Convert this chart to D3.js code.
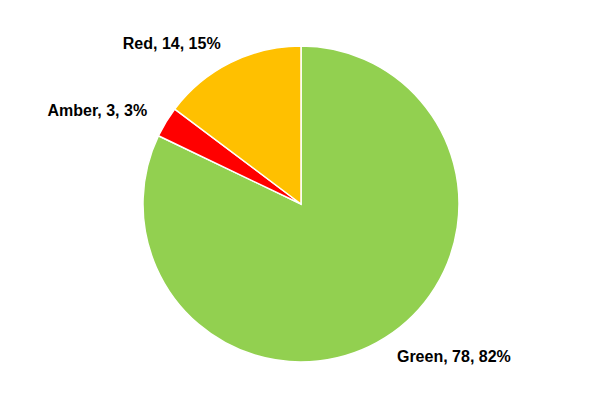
<!DOCTYPE html>
<html>
<head>
<meta charset="utf-8">
<script src="https://cdn.jsdelivr.net/npm/d3@7"></script>
<style>
  body { margin: 0; background: #fff; }
  text { font-family: "Liberation Sans", Arial, sans-serif; font-weight: bold; font-size: 16px; fill: #000; }
</style>
</head>
<body>
<div id="chart"></div>
<script>
// chart data
var categories = ["Green", "Amber", "Red"];
var values = [78, 3, 14];
var colors = ["#92D050", "#FF0000", "#FFC000"];

var width = 600, height = 400;
var cx = 301, cy = 204, radius = 158, labelRadius = 180;

var total = d3.sum(values);
var data = categories.map(function (c, i) { return {name: c, value: values[i], color: colors[i]}; });

var svg = d3.select("#chart")
  .append("svg")
    .attr("width", width)
    .attr("height", height)
  .append("g")
    .attr("transform", "translate(" + cx + "," + cy + ")");

var pie = d3.pie()
  .sort(null)
  .value(function (d) { return d.value; });

var arc = d3.arc().innerRadius(0).outerRadius(radius);
var labelArc = d3.arc().innerRadius(labelRadius).outerRadius(labelRadius);

var arcs = pie(data);

// slices
svg.selectAll("path")
  .data(arcs)
  .enter()
  .append("path")
    .attr("d", arc)
    .style("fill", function (d) { return d.data.color; })
    .style("stroke", "#fff")
    .style("stroke-width", 1.5);

// labels
svg.selectAll("text")
  .data(arcs)
  .enter()
  .append("text")
    .attr("transform", function (d) { return "translate(" + labelArc.centroid(d) + ")"; })
    .attr("dy", "0.35em")
    .attr("text-anchor", function (d) {
      var mid = (d.startAngle + d.endAngle) / 2;
      return Math.sin(mid) >= 0 ? "start" : "end";
    })
    .text(function (d) {
      return d.data.name + ", " + d.data.value + ", " + Math.round(d.data.value / total * 100) + "%";
    });
</script>
</body>
</html>
